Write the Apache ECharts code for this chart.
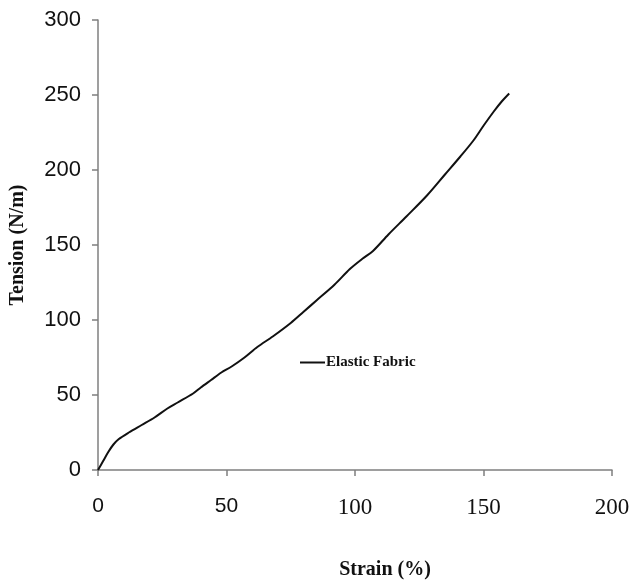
<!DOCTYPE html>
<html>
<head>
<meta charset="utf-8">
<script src="https://cdn.jsdelivr.net/npm/echarts@6/dist/echarts.min.js"></script>
<style>
  html, body { margin: 0; padding: 0; background: #fff; }
  #chart { width: 635px; height: 582px; }
</style>
</head>
<body>
<div id="chart"></div>
<script>
// strain (%) and tension (N/m)
const strain = [0, 2, 4, 6, 8, 12, 17, 22, 27, 31, 37, 40, 44, 48, 52, 57, 62, 68, 75, 80, 85, 92, 98, 103, 107, 113, 120, 128, 135, 141, 146, 150, 154, 157, 160];
const tension = [0, 6, 12, 17, 20.5, 25, 30, 35, 41, 45, 51, 55, 60, 65, 69, 75, 82, 89, 98, 105.5, 113, 123.5, 134, 141, 146, 157, 169, 183, 197, 209, 219.5, 229.5, 239, 245.5, 251];
const seriesName = 'Elastic Fabric';

const points = strain.map((s, i) => [s, tension[i]]);

const chart = echarts.init(document.getElementById('chart'));

const axisGray = '#7f7f7f';

chart.setOption({
  animation: false,
  backgroundColor: '#fff',
  grid: { left: 98, right: 23, top: 20, bottom: 112, containLabel: false, outerBoundsMode: 'none' },
  legend: {
    left: 300,
    top: 355,
    padding: 0,
    itemWidth: 25,
    itemHeight: 2,
    itemGap: 1,
    data: [{ name: seriesName, icon: 'rect' }],
    textStyle: {
      fontFamily: 'Liberation Serif',
      fontWeight: 'bold',
      fontSize: 15,
      color: '#111',
      padding: [0, 0, 0, -4]
    }
  },
  xAxis: {
    type: 'value',
    min: 0,
    max: 200,
    interval: 50,
    name: 'Strain (%)',
    nameLocation: 'middle',
    nameGap: 90,
    nameTextStyle: {
      fontFamily: 'Liberation Serif',
      fontWeight: 'bold',
      fontSize: 20,
      color: '#111',
      padding: [0, 0, 0, 60]
    },
    splitLine: { show: false },
    axisLine: { lineStyle: { color: axisGray, width: 1.5 } },
    axisTick: { inside: false, length: 6, lineStyle: { color: axisGray, width: 1.5 } },
    axisLabel: {
      margin: 26,
      fontSize: 22,
      color: '#111',
      formatter: function (v) { return v >= 100 ? '{s|' + v + '}' : '{n|' + v + '}'; },
      rich: {
        s: { fontFamily: 'Liberation Serif', fontSize: 23, color: '#111' },
        n: { fontFamily: 'Liberation Sans', fontSize: 21, color: '#111' }
      }
    }
  },
  yAxis: {
    type: 'value',
    min: 0,
    max: 300,
    interval: 50,
    name: 'Tension (N/m)',
    nameLocation: 'middle',
    nameGap: 70,
    nameTextStyle: {
      fontFamily: 'Liberation Serif',
      fontWeight: 'bold',
      fontSize: 20,
      color: '#111'
    },
    splitLine: { show: false },
    axisLine: { show: true, lineStyle: { color: axisGray, width: 1.5 } },
    axisTick: { show: true, inside: false, length: 6, lineStyle: { color: axisGray, width: 1.5 } },
    axisLabel: {
      margin: 17,
      fontFamily: 'Liberation Sans',
      fontSize: 22,
      color: '#111'
    }
  },
  series: [{
    name: seriesName,
    type: 'line',
    data: points,
    smooth: 0.3,
    showSymbol: false,
    symbol: 'none',
    lineStyle: { color: '#111', width: 2 },
    itemStyle: { color: '#111' }
  }]
});
</script>
</body>
</html>
